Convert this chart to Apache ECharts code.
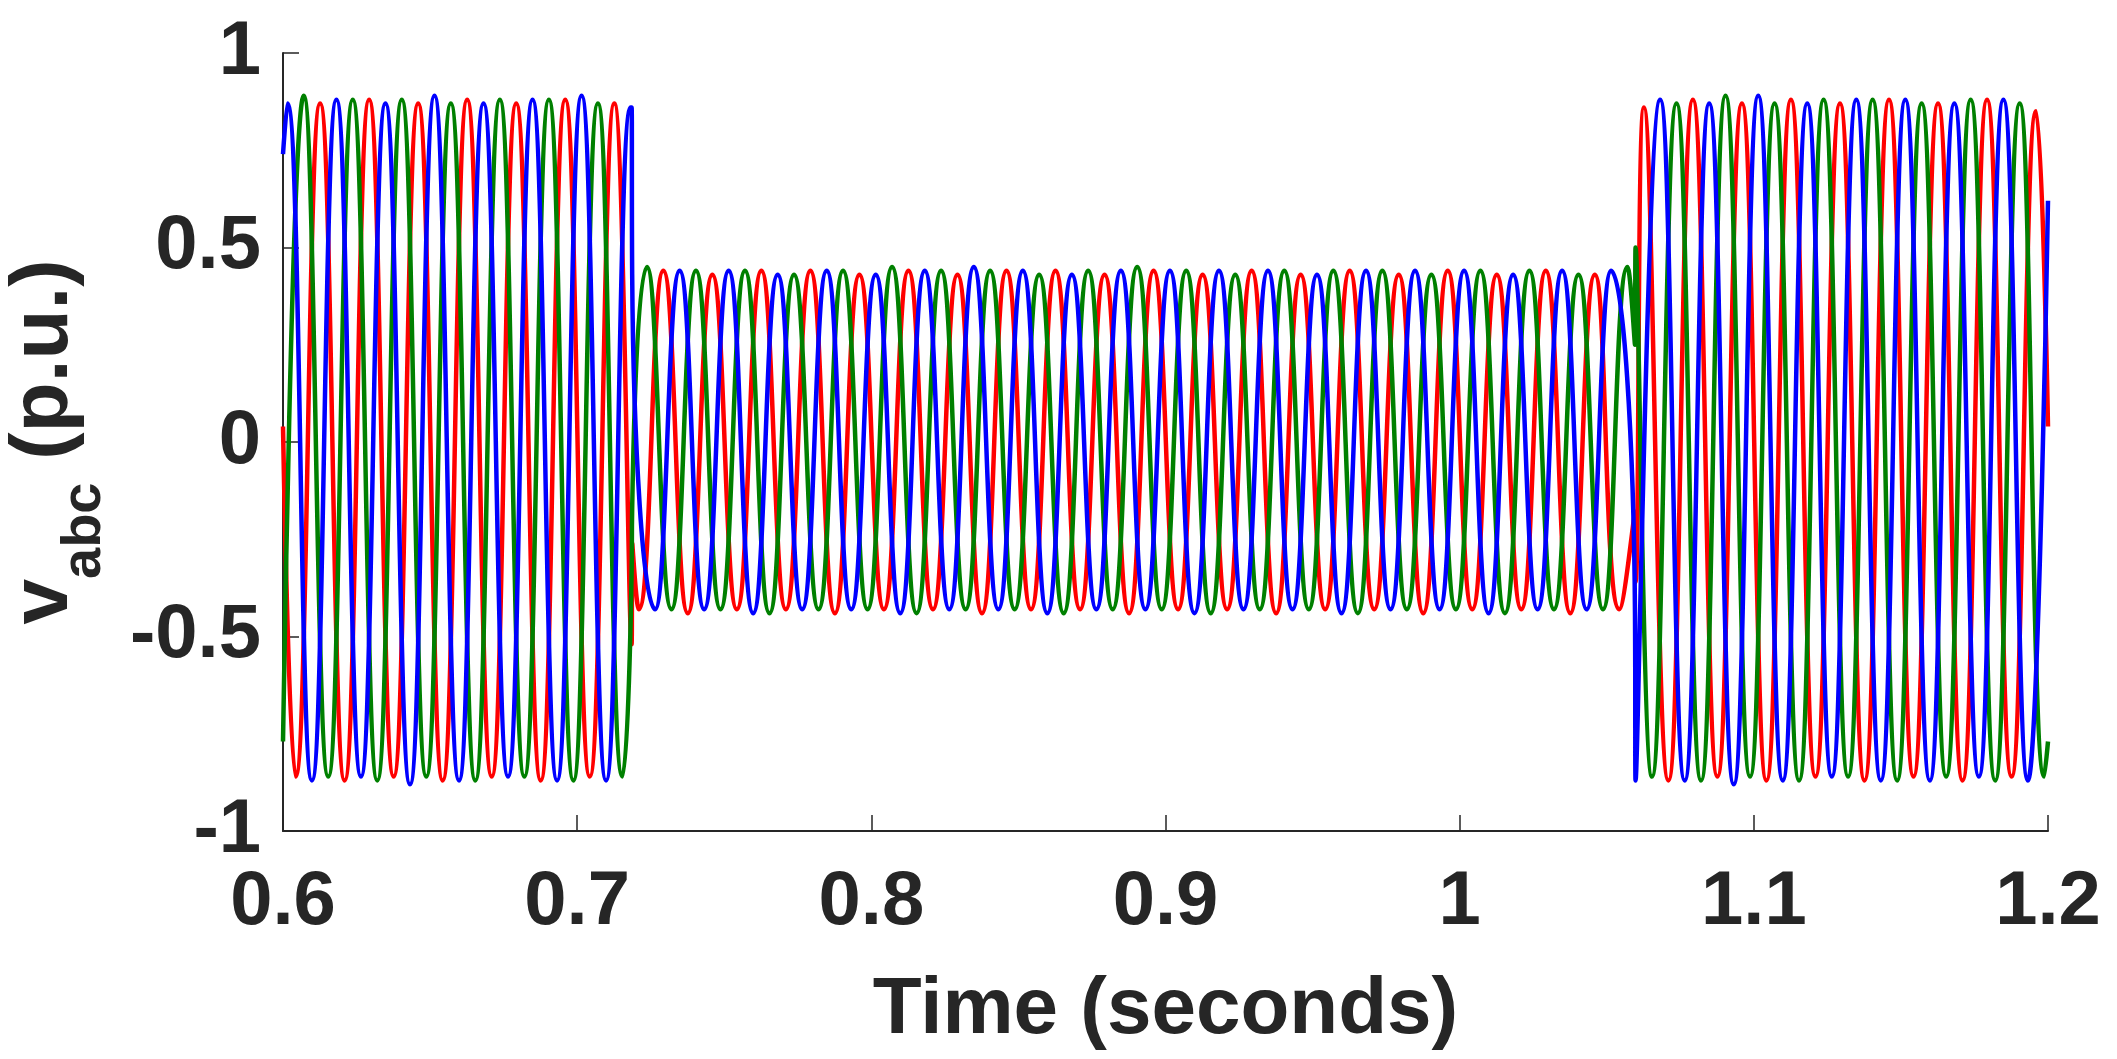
<!DOCTYPE html>
<html>
<head>
<meta charset="utf-8">
<script src="https://cdn.jsdelivr.net/npm/echarts@6/dist/echarts.min.js"></script>
<style>
html,body{margin:0;padding:0;background:#fff}
#main{width:2117px;height:1059px}
</style>
</head>
<body>
<div id="main"></div>
<script>
// 60 Hz, extrema; times given in cycles (t*60)
var f = 60;
var sagStart = 0.7185, sagEnd = 1.0596;
var xTicks = ['0.6','0.7','0.8','0.9','1','1.1','1.2'];
var yTicks = ['-1','-0.5','0','0.5','1'];

// first extremum (in cycles) of each segment
var blueStart = [36.09, 43.59, 64.09];
var greenStart = [36.423, 43.423, 63.923];
var redStart = [36.257, 43.257, 63.757];

// values at t=0.6, at sag start (before/after), at sag end (before/after), at t=1.2
var blueEdge = [0.74, 0.86, 0.43, -0.44, -0.87, 0.62];
var greenEdge = [-0.77, -0.34, -0.17, 0.25, 0.50, -0.77];
var redEdge = [0.04, -0.52, -0.26, -0.18, -0.36, 0.04];

var blue1 = [0.87,-0.87,0.88,-0.86,0.87,-0.88,0.89,-0.87,0.87,-0.86,0.88,-0.87,0.89,-0.87,0.86];
var green1 = [0.89,-0.86,0.88,-0.87,0.88,-0.86,0.87,-0.87,0.88,-0.86,0.88,-0.87,0.87,-0.86];
var red1 = [-0.86,0.87,-0.87,0.88,-0.86,0.87,-0.87,0.88,-0.86,0.87,-0.87,0.88,-0.86,0.87];

var blue2 = [-0.43,0.44,-0.43,0.44,-0.44,0.43,-0.43,0.44,-0.43,0.43,-0.44,0.44,-0.43,0.45,-0.43,0.44,
  -0.44,0.43,-0.43,0.44,-0.43,0.44,-0.44,0.44,-0.43,0.44,-0.43,0.43,-0.44,0.44,-0.43,0.44,-0.43,0.44,
  -0.44,0.43,-0.43,0.44,-0.43,0.44];
var green2 = [0.45,-0.43,0.44,-0.43,0.44,-0.44,0.43,-0.43,0.44,-0.43,0.45,-0.44,0.44,-0.43,0.44,-0.43,
  0.43,-0.44,0.44,-0.43,0.45,-0.43,0.44,-0.44,0.43,-0.43,0.44,-0.43,0.44,-0.44,0.44,-0.43,0.43,-0.43,
  0.44,-0.44,0.44,-0.43,0.43,-0.43,0.45];
var red2 = [-0.43,0.44,-0.44,0.43,-0.43,0.44,-0.43,0.44,-0.44,0.43,-0.43,0.44,-0.43,0.43,-0.44,0.44,
  -0.43,0.44,-0.43,0.43,-0.44,0.44,-0.43,0.43,-0.43,0.44,-0.44,0.43,-0.43,0.44,-0.43,0.43,-0.44,0.44,
  -0.43,0.43,-0.43,0.44,-0.44,0.43,-0.43];

var blue3 = [0.88,-0.87,0.87,-0.88,0.89,-0.87,0.87,-0.86,0.88,-0.87,0.88,-0.87,0.87,-0.86,0.88,-0.87];
var green3 = [-0.86,0.87,-0.87,0.89,-0.86,0.87,-0.87,0.88,-0.86,0.88,-0.87,0.87,-0.86,0.88,-0.87,0.87,-0.86];
var red3 = [0.86,-0.87,0.88,-0.86,0.87,-0.87,0.88,-0.86,0.87,-0.87,0.88,-0.86,0.87,-0.87,0.88,-0.86,0.85];

function build(starts, edge, segs){
	var pts = [[0.6, edge[0]]];
	var cuts = [[sagStart, edge[1], edge[2]], [sagEnd, edge[3], edge[4]]];
	segs.forEach(function(vals, s){
		vals.forEach(function(v, k){
			pts.push([(starts[s] + 0.5 * k) / f, v]);
		});
		if(s < 2){
			pts.push([cuts[s][0], cuts[s][1]]);
			pts.push([cuts[s][0] + 0.0002, cuts[s][2]]);
		}
	});
	pts.push([1.2, edge[5]]);
	return pts;
}

var font = 'Liberation Sans, Arial, sans-serif';
var ink = '#262626';
function line(name, color, data){
	return {name:name, type:'line', data:data, smooth:0.5, showSymbol:false,
		lineStyle:{color:color, width:4.5}, animation:false};
}

var chart = echarts.init(document.getElementById('main'));
chart.setOption({
	backgroundColor:'#fff',
	grid:{left:283, right:69, top:53, bottom:228, containLabel:false, outerBoundsMode:'none'},
	xAxis:{
		type:'value', min:0.6, max:1.2, interval:0.1,
		name:'Time (seconds)', nameLocation:'middle', nameGap:140,
		nameTextStyle:{fontFamily:font, fontWeight:'bold', fontSize:80, color:ink},
		axisLine:{onZero:false, lineStyle:{color:ink, width:2}},
		axisTick:{inside:true, length:16, lineStyle:{color:ink, width:1.5}},
		splitLine:{show:false},
		axisLabel:{margin:34, fontFamily:font, fontWeight:'bold', fontSize:76, color:ink,
			showMaxLabel:true, showMinLabel:true,
			formatter:function(v){ return xTicks[Math.round((v - 0.6) * 10)]; }}
	},
	yAxis:{
		type:'value', min:-1, max:1, interval:0.5,
		name:'{v|v}{s|abc}{p| (p.u.)}', nameLocation:'middle', nameRotate:90, nameGap:170,
		nameTextStyle:{fontFamily:font, fontWeight:'bold', color:ink, rich:{
			v:{fontFamily:font, fontWeight:'bold', fontSize:82, color:ink, verticalAlign:'bottom', padding:[0,0,28,0]},
			s:{fontFamily:font, fontWeight:'bold', fontSize:56, color:ink, verticalAlign:'bottom'},
			p:{fontFamily:font, fontWeight:'bold', fontSize:82, color:ink, verticalAlign:'bottom', padding:[0,0,28,0]}
		}},
		axisLine:{onZero:false, lineStyle:{color:ink, width:2}},
		axisTick:{inside:true, length:16, lineStyle:{color:ink, width:1.5}},
		splitLine:{show:false},
		axisLabel:{margin:22, fontFamily:font, fontWeight:'bold', fontSize:76, color:ink,
			formatter:function(v){ return yTicks[Math.round((v + 1) * 2)]; }}
	},
	series:[
		line('a', '#ff0000', build(redStart, redEdge, [red1, red2, red3])),
		line('b', '#008000', build(greenStart, greenEdge, [green1, green2, green3])),
		line('c', '#0000ff', build(blueStart, blueEdge, [blue1, blue2, blue3]))
	]
});
</script>
</body>
</html>
